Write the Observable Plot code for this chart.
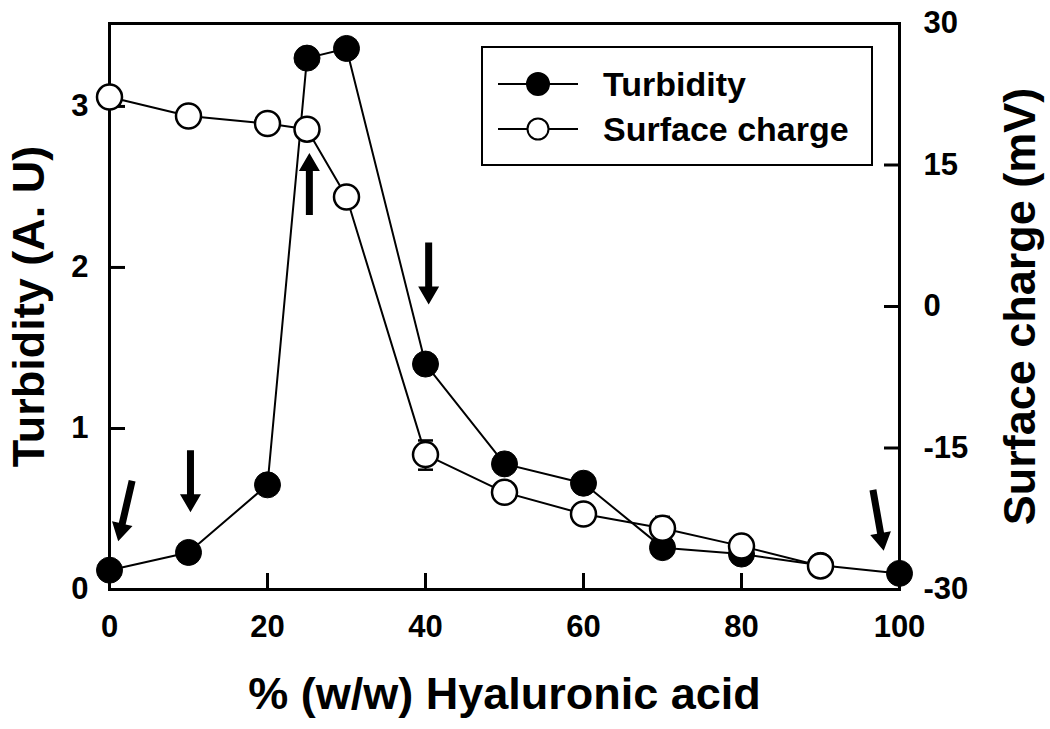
<!DOCTYPE html>
<html>
<head>
<meta charset="utf-8">
<script src="https://cdn.jsdelivr.net/npm/d3@7"></script>
<script src="https://cdn.jsdelivr.net/npm/@observablehq/plot@0.6"></script>
<style>
  html, body { margin: 0; padding: 0; background: #fff; }
  #chart { position: relative; width: 1050px; height: 729px; }
</style>
</head>
<body>
<div id="chart"></div>
<script>
// ---- data ----
const pct = [0, 10, 20, 25, 30, 40, 50, 60, 70, 80, 90, 100];
const turbidity = [0.12, 0.23, 0.65, 3.30, 3.36, 1.40, 0.78, 0.66, 0.26, 0.22, 0.15, 0.10];
const surfacePct = [0, 10, 20, 25, 30, 40, 50, 60, 70, 80, 90];
const surfaceCharge = [22.2, 20.2, 19.4, 18.8, 11.6, -15.7, -19.7, -22.0, -23.5, -25.4, -27.5];
const errPct = [40, 70];
const errLow = [-17.3, -24.7];
const errHigh = [-14.2, -22.3];
const arrowPct = [1.1, 10.25, 25.3, 40.4, 98.0];
const arrowTurb = [0.30, 0.48, 2.71, 1.77, 0.24];
const arrowAngle = [193, 180, 0, 180, 170];
const xTicks = [0, 20, 40, 60, 80, 100];
const yTicks = [0, 1, 2, 3];
const y2Ticks = [-30, -15, 0, 15, 30];
const xLabel = "% (w/w) Hyaluronic acid";
const yLabel = "Turbidity (A. U)";
const y2Label = "Surface charge (mV)";
const seriesNames = ["Turbidity", "Surface charge"];

// ---- scales ----
const yMax = 3.515;
const y2Domain = [-30, 30];
const toLeft = v => (v - y2Domain[0]) / (y2Domain[1] - y2Domain[0]) * yMax;

const turbData = pct.map((x, i) => ({x, y: turbidity[i]}));
const surfData = surfacePct.map((x, i) => ({x, y: toLeft(surfaceCharge[i])}));
const errData = errPct.map((x, i) => ({x, lo: toLeft(errLow[i]), hi: toLeft(errHigh[i])}));
const arrowData = arrowPct.map((x, i) => ({x, y: arrowTurb[i], a: arrowAngle[i]}));

const arrowShape = {
  draw(context, l) {
    const hw = 3.5, hh = 10.5, hl = 18;
    context.moveTo(-hw, 0);
    context.lineTo(-hw, -(l - hl));
    context.lineTo(-hh, -(l - hl));
    context.lineTo(0, -l);
    context.lineTo(hh, -(l - hl));
    context.lineTo(hw, -(l - hl));
    context.lineTo(hw, 0);
    context.closePath();
  }
};

const font = "'Liberation Sans', Arial, Helvetica, sans-serif";

const chart = Plot.plot({
  width: 1050,
  height: 729,
  marginLeft: 109,
  marginRight: 151,
  marginTop: 23,
  marginBottom: 140,
  style: {fontFamily: font, fontWeight: "bold", fontSize: "31px", background: "white", color: "black", overflow: "visible"},
  x: {domain: [0, 100]},
  y: {domain: [0, yMax]},
  marks: [
    Plot.frame({stroke: "black", strokeWidth: 3}),
    Plot.axisX({ticks: xTicks, tickSize: -16, tickPadding: 41, strokeWidth: 3, tickFormat: d => String(d), label: null}),
    Plot.axisY({anchor: "left", ticks: yTicks, tickSize: -16, tickPadding: 37, strokeWidth: 3, tickFormat: d => String(d), label: null}),
    Plot.axisY({anchor: "right", ticks: y2Ticks.map(toLeft), tickSize: -16, tickPadding: 40, strokeWidth: 3,
      tickFormat: d => String(Math.round(d / yMax * 60 - 30)), label: null}),
    Plot.text([xLabel], {frameAnchor: "bottom", dy: 105, fontSize: 45, fontWeight: "bold", textAnchor: "middle", lineAnchor: "middle"}),
    Plot.text([yLabel], {frameAnchor: "left", dx: -80, rotate: -90, fontSize: 45, fontWeight: "bold", textAnchor: "middle", lineAnchor: "middle"}),
    Plot.text([y2Label], {frameAnchor: "right", dx: 121, rotate: -90, fontSize: 45, fontWeight: "bold", textAnchor: "middle", lineAnchor: "middle"}),
    // turbidity
    Plot.line(turbData, {x: "x", y: "y", stroke: "black", strokeWidth: 2}),
    Plot.dot(turbData, {x: "x", y: "y", r: 13, fill: "black", stroke: "black", strokeWidth: 1}),
    // surface charge
    Plot.line(surfData, {x: "x", y: "y", stroke: "black", strokeWidth: 2}),
    Plot.ruleX(errData, {x: "x", y1: "lo", y2: "hi", stroke: "black", strokeWidth: 2}),
    Plot.link(errData, {x1: d => d.x - 0.95, x2: d => d.x + 0.95, y1: "lo", y2: "lo", stroke: "black", strokeWidth: 2.5}),
    Plot.link(errData, {x1: d => d.x - 0.95, x2: d => d.x + 0.95, y1: "hi", y2: "hi", stroke: "black", strokeWidth: 2.5}),
    Plot.dot(surfData, {x: "x", y: "y", r: 12.5, fill: "white", stroke: "black", strokeWidth: 2.5}),
    // arrows
    Plot.vector(arrowData, {x: "x", y: "y", rotate: "a", length: 62, anchor: "end", shape: arrowShape,
      fill: "black", stroke: "none"})
  ]
});

// legend box (inside the plot, upper right)
const svg = d3.select(chart);
const lg = svg.append("g").attr("font-family", font).attr("font-weight", "bold").attr("font-size", 34)
  .attr("text-anchor", "start");
lg.append("rect").attr("x", 482).attr("y", 47).attr("width", 390).attr("height", 118)
  .attr("fill", "white").attr("stroke", "black").attr("stroke-width", 2);
seriesNames.forEach((name, i) => {
  const cy = 84 + i * 45;
  lg.append("line").attr("x1", 498).attr("x2", 578).attr("y1", cy).attr("y2", cy)
    .attr("stroke", "black").attr("stroke-width", 2);
  lg.append("circle").attr("cx", 538).attr("cy", cy).attr("r", i === 0 ? 11 : 10.5)
    .attr("fill", i === 0 ? "black" : "white").attr("stroke", "black").attr("stroke-width", 2);
  lg.append("text").attr("x", 603).attr("y", cy).attr("dy", "0.36em").attr("text-anchor", "start").text(name);
});

document.getElementById("chart").appendChild(chart);
</script>
</body>
</html>
